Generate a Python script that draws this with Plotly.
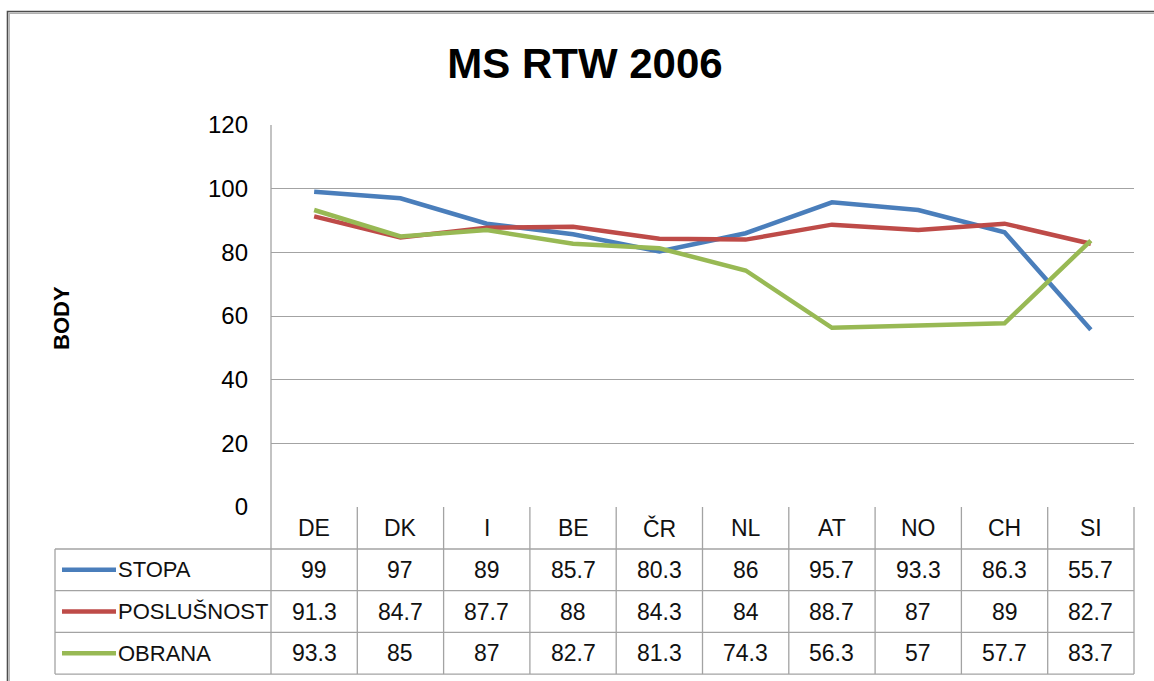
import plotly.graph_objects as go

categories = ["DE", "DK", "I", "BE", "ČR", "NL", "AT", "NO", "CH", "SI"]
series_names = ["STOPA", "POSLUŠNOST", "OBRANA"]
stopa = [99, 97, 89, 85.7, 80.3, 86, 95.7, 93.3, 86.3, 55.7]
poslusnost = [91.3, 84.7, 87.7, 88, 84.3, 84, 88.7, 87, 89, 82.7]
obrana = [93.3, 85, 87, 82.7, 81.3, 74.3, 56.3, 57, 57.7, 83.7]
y_ticks = [0, 20, 40, 60, 80, 100, 120]

series_values = [stopa, poslusnost, obrana]
colors = ["#4A7EBB", "#BE4B48", "#98B954"]

W, H = 1154, 681
L, R, T, B = 271, 20, 125, 174
PW = W - L - R
PH = H - T - B

FONT = "Liberation Sans"
GRID = "#A3A3A3"
TSIZE = 23

def px_x(x):
    return (x - L) / PW

def px_y(y):
    return (H - B - y) / PH

fig = go.Figure()
for name, vals, col in zip(series_names, series_values, colors):
    fig.add_trace(go.Scatter(x=categories, y=vals, name=name, mode="lines",
                             line=dict(color=col, width=4.5)))

shapes = []
annotations = []

header_bottom = 549
row_h = 41.7
table_left = 55
row_bounds = [header_bottom + i * row_h for i in range(len(series_names) + 1)]

for yb in row_bounds:
    shapes.append(dict(type="line", xref="paper", yref="paper",
                       x0=px_x(table_left), x1=1, y0=px_y(yb), y1=px_y(yb),
                       line=dict(color=GRID, width=1.3)))
shapes.append(dict(type="line", xref="paper", yref="paper",
                   x0=px_x(table_left), x1=px_x(table_left),
                   y0=px_y(row_bounds[0]), y1=px_y(row_bounds[-1]),
                   line=dict(color=GRID, width=1.3)))
shapes.append(dict(type="line", xref="paper", yref="paper",
                   x0=0, x1=0, y0=px_y(row_bounds[-1]), y1=1,
                   line=dict(color=GRID, width=1.3)))
n = len(categories)
for k in range(1, n + 1):
    shapes.append(dict(type="line", xref="paper", yref="paper",
                       x0=k / n, x1=k / n, y0=px_y(row_bounds[-1]), y1=0,
                       line=dict(color=GRID, width=1.3)))

for c in categories:
    annotations.append(dict(x=c, xref="x", y=px_y(528), yref="paper",
                            text=c, showarrow=False, xanchor="center", yanchor="middle",
                            font=dict(family=FONT, size=TSIZE, color="#111")))

for i, (name, vals, col) in enumerate(zip(series_names, series_values, colors)):
    yc = px_y(row_bounds[i] + row_h / 2)
    shapes.append(dict(type="line", xref="paper", yref="paper",
                       x0=px_x(62), x1=px_x(116), y0=yc, y1=yc,
                       line=dict(color=col, width=4.5)))
    annotations.append(dict(x=px_x(116), xref="paper", y=yc, yref="paper",
                            text=name, showarrow=False, xanchor="left", yanchor="middle",
                            font=dict(family=FONT, size=TSIZE - 1, color="#111")))
    for c, v in zip(categories, vals):
        annotations.append(dict(x=c, xref="x", y=yc, yref="paper",
                                text=f"{v:g}", showarrow=False, xanchor="center",
                                yanchor="middle",
                                font=dict(family=FONT, size=TSIZE, color="#111")))

annotations.append(dict(x=px_x(61), xref="paper", y=px_y(318), yref="paper",
                        text="<b>BODY</b>", textangle=-90, showarrow=False,
                        xanchor="center", yanchor="middle",
                        font=dict(family=FONT, size=22, color="#000")))

shapes.append(dict(type="rect", xref="paper", yref="paper",
                   x0=px_x(7.5), x1=px_x(1300), y0=px_y(900), y1=px_y(11.5),
                   line=dict(color="#4d4d4d", width=1.6)))
shapes.append(dict(type="rect", xref="paper", yref="paper",
                   x0=px_x(9.2), x1=px_x(1300), y0=px_y(900), y1=px_y(13.2),
                   line=dict(color="#b0b0b0", width=1.4)))

fig.update_layout(
    width=W, height=H,
    margin=dict(l=L, r=R, t=T, b=B),
    paper_bgcolor="white", plot_bgcolor="white",
    showlegend=False,
    title=dict(text="<b>MS RTW 2006</b>", xref="container", yref="container",
               x=585 / W, y=1 - 63 / H, xanchor="center", yanchor="middle",
               font=dict(family=FONT, size=42, color="#000")),
    xaxis=dict(type="category", range=[-0.5, n - 0.5], showticklabels=False,
               showgrid=False, zeroline=False, showline=False, ticks=""),
    yaxis=dict(range=[0, 120], tickvals=y_ticks, showgrid=True, gridcolor=GRID,
               gridwidth=1.3, zeroline=False, showline=False, ticks="",
               ticklabelstandoff=22,
               tickfont=dict(family=FONT, size=24, color="#000")),
    shapes=shapes,
    annotations=annotations,
)

fig.write_html("out.html", config={"displayModeBar": False},
               post_script="document.body.style.margin='0';document.body.style.overflow='hidden';")
